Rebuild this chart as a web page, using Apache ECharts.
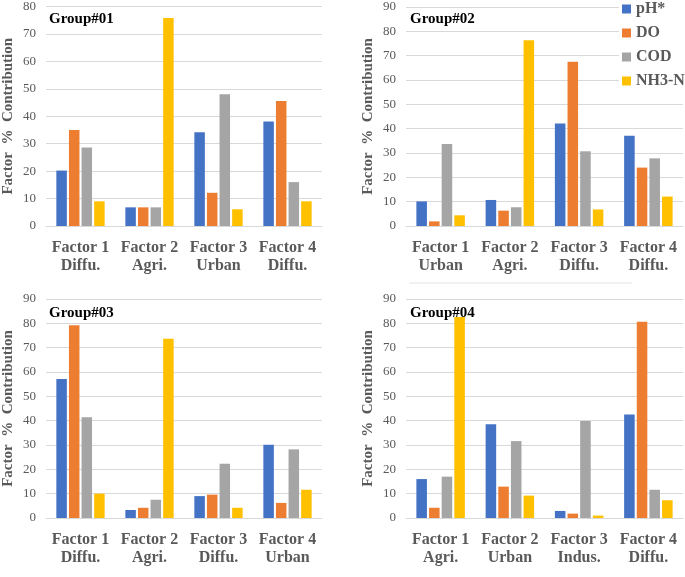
<!DOCTYPE html>
<html>
<head>
<meta charset="utf-8" />
<title>Factor % Contribution</title>
<script type="text/javascript" src="https://cdn.jsdelivr.net/npm/echarts@6/dist/echarts.min.js"></script>
<style>
    html, body { margin: 0; padding: 0; background: #fff; }
    #main { width: 685px; height: 577px; }
</style>
</head>
<body>
<div id="main"></div>
<script type="text/javascript">
    // series names and colours (excel defaults)
    var seriesNames = ['pH*', 'DO', 'COD', 'NH3-N'];
    var colors = ['#4472C4', '#ED7D31', '#A5A5A5', '#FFC000'];

    // category labels per group
    var cats1 = ['Factor 1\nDiffu.', 'Factor 2\nAgri.', 'Factor 3\nUrban', 'Factor 4\nDiffu.'];
    var cats2 = ['Factor 1\nUrban', 'Factor 2\nAgri.', 'Factor 3\nDiffu.', 'Factor 4\nDiffu.'];
    var cats3 = ['Factor 1\nDiffu.', 'Factor 2\nAgri.', 'Factor 3\nDiffu.', 'Factor 4\nUrban'];
    var cats4 = ['Factor 1\nAgri.', 'Factor 2\nUrban', 'Factor 3\nIndus.', 'Factor 4\nDiffu.'];

    // Group#01
    var g1PH  = [20.2, 6.8, 34.2, 38.1];
    var g1DO  = [35.0, 6.8, 12.1, 45.6];
    var g1COD = [28.6, 6.8, 48.0, 16.0];
    var g1NH3 = [9.0, 75.8, 6.1, 9.0];
    // Group#02
    var g2PH  = [10.1, 10.7, 42.1, 37.1];
    var g2DO  = [1.9, 6.3, 67.5, 24.0];
    var g2COD = [33.7, 7.7, 30.7, 27.8];
    var g2NH3 = [4.4, 76.3, 6.8, 12.1];
    // Group#03
    var g3PH  = [57.1, 3.3, 9.0, 30.1];
    var g3DO  = [79.2, 4.2, 9.6, 6.2];
    var g3COD = [41.4, 7.5, 22.3, 28.2];
    var g3NH3 = [10.0, 73.7, 4.2, 11.6];
    // Group#04
    var g4PH  = [16.0, 38.5, 2.9, 42.5];
    var g4DO  = [4.2, 12.9, 1.8, 80.7];
    var g4COD = [17.0, 31.6, 39.9, 11.6];
    var g4NH3 = [82.6, 9.2, 1.0, 7.3];

    var yMax = [80, 90, 90, 90];
    var titles = ['Group#01', 'Group#02', 'Group#03', 'Group#04'];

    var serif = "'Liberation Serif', 'Times New Roman', serif";
    var gray = '#595959';

    var grids = [
        { left: 44, top: 6, width: 278, height: 220 },
        { left: 406, top: 7, width: 277, height: 219 },
        { left: 44, top: 299, width: 278, height: 219 },
        { left: 406, top: 299, width: 277, height: 219 }
    ];
    var titlePos = [[49, 12], [410, 12], [49, 306], [410, 306]];
    var allCats = [cats1, cats2, cats3, cats4];
    var allData = [
        [g1PH, g1DO, g1COD, g1NH3],
        [g2PH, g2DO, g2COD, g2NH3],
        [g3PH, g3DO, g3COD, g3NH3],
        [g4PH, g4DO, g4COD, g4NH3]
    ];

    var xAxes = [], yAxes = [], series = [], titleList = [];
    for (var i = 0; i < 4; i++) {
        xAxes.push({
            type: 'category',
            gridIndex: i,
            data: allCats[i],
            axisLine: { lineStyle: { color: '#D9D9D9' } },
            axisTick: { show: false },
            axisLabel: {
                color: gray, fontFamily: serif, fontWeight: 'bold',
                fontSize: 16, lineHeight: 18, margin: 13, interval: 0
            }
        });
        yAxes.push({
            type: 'value',
            gridIndex: i,
            min: 0, max: yMax[i], interval: 10,
            name: 'Factor  %  Contribution',
            nameLocation: 'middle',
            nameGap: 30,
            nameTextStyle: { color: gray, fontFamily: serif, fontWeight: 'bold', fontSize: 15 },
            axisLine: { show: false },
            axisTick: { show: false },
            splitLine: { lineStyle: { color: '#D9D9D9' } },
            axisLabel: { color: gray, fontFamily: serif, fontSize: 13, margin: 10 }
        });
        for (var s = 0; s < 4; s++) {
            series.push({
                name: seriesNames[s],
                type: 'bar',
                xAxisIndex: i,
                yAxisIndex: i,
                data: allData[i][s],
                barGap: '20%',
                barCategoryGap: '30%'
            });
        }
        titleList.push({
            text: titles[i],
            left: titlePos[i][0],
            top: titlePos[i][1],
            padding: 0,
            textStyle: { color: '#000', fontFamily: serif, fontWeight: 'bold', fontSize: 15 }
        });
    }

    var myChart = echarts.init(document.getElementById('main'));
    myChart.setOption({
        animation: false,
        color: colors,
        title: titleList,
        grid: grids,
        xAxis: xAxes,
        yAxis: yAxes,
        legend: {
            data: seriesNames,
            orient: 'vertical',
            left: 619,
            top: 0,
            padding: [1, 4, 2, 3],
            backgroundColor: '#fff',
            icon: 'rect',
            itemWidth: 9,
            itemHeight: 9,
            itemGap: 8,
            textStyle: { color: gray, fontFamily: serif, fontWeight: 'bold', fontSize: 16, lineHeight: 16 }
        },
        graphic: [{
            type: 'line',
            shape: { x1: 409, y1: 283, x2: 632, y2: 283 },
            style: { stroke: '#E3E3E3', lineWidth: 1 }
        }],
        series: series
    });
</script>
</body>
</html>
